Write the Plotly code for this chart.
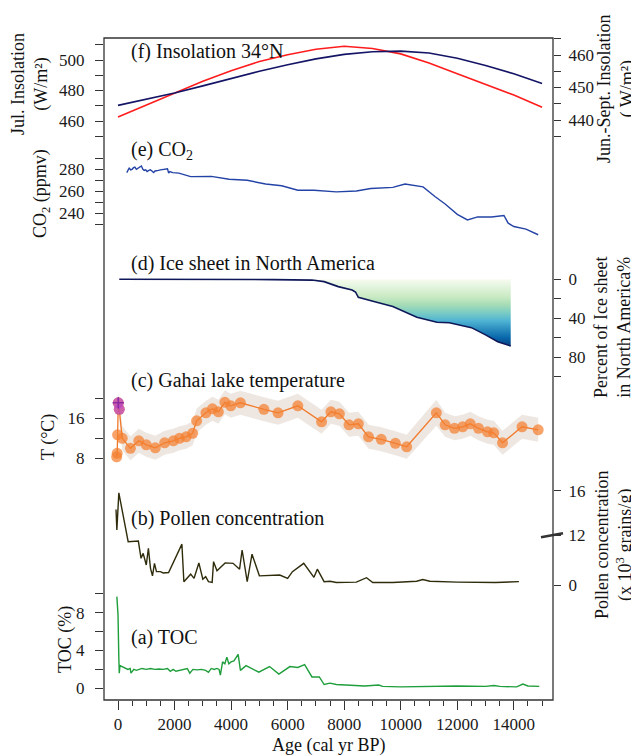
import plotly.graph_objects as go

FONT = "Liberation Serif, Times New Roman, serif"
PAGE_W, PAGE_H = 639, 755
OFF = 8                      # default page margin of the html body
W, H = PAGE_W - OFF, PAGE_H - OFF
L, R, T, B = 104, 553, 38, 700  # plot area in screenshot pixels

# ---------------- data ----------------
ins_age = [0, 1000, 2000, 3000, 4000, 5000, 6000, 7000, 8000, 9000, 10000, 11000, 12000, 13000, 14000, 15000]
ins_jul = [462.6, 470.5, 478.4, 486, 493, 499, 503.5, 507, 509, 507.5, 504, 498, 491, 484, 477, 469]
ins_jjas = [444.5, 446.3, 448.3, 450.5, 452.8, 455, 457, 458.8, 460.2, 461, 461.2, 460.6, 459, 456.8, 454.2, 451.2]

co2_age = [310, 360, 395, 450, 496, 550, 597, 650, 711, 770, 827, 880, 927, 980, 1029, 1090, 1144, 1200,
           1260, 1310, 1361, 1430, 1504, 1580, 1648, 1750, 1793, 1835, 1935, 2152, 2570, 3300, 3930, 4570,
           5220, 5790, 6360, 6930, 7720, 8430, 8940, 9720, 10150, 10790, 11220, 11570, 12000, 12360, 12720,
           13210, 13650, 13800, 14000, 14430, 14860]
co2_val = [277, 280.5, 281, 279.5, 280, 281.5, 282, 280, 281, 281.5, 283, 280, 279, 279.5, 278, 279, 279.5,
           278.5, 277, 278.5, 278.5, 279, 279.5, 280, 280, 280.5, 276.5, 278, 277, 276.5, 273.3, 273.6, 271,
           270, 266.6, 265, 261, 261, 259.5, 260.3, 262.5, 263.6, 266.6, 264, 255, 248.5, 239, 234, 236.7,
           236.7, 238, 231, 228, 225.6, 220.5]

ice_age = [45, 2000, 4430, 5500, 6860, 7125, 7290, 7790, 8280, 8400, 8500, 9150, 9720, 10570, 11280, 11720,
           12500, 13000, 13430, 13890]
ice_pct = [0, 0, 0, 0.3, 0.8, 1.5, 2.4, 7.5, 11, 13, 18.5, 23.6, 28, 39, 44, 44.5, 49.6, 57, 64, 68.4]

t_age = [-47, -28, -14, 10, 45, 150, 440, 735, 1000, 1320, 1650, 1960, 2175, 2410, 2640, 2780, 3110, 3340,
         3550, 3780, 3990, 4330, 5160, 5660, 6360, 7200, 7530, 7830, 8170, 8500, 8860, 9310, 9810, 10210,
         11260, 11570, 11900, 12190, 12460, 12750, 13070, 13290, 13600, 14290, 14860]
t_val = [8.3, 9.0, 12.7, 19.1, 17.8, 12.0, 10.0, 11.5, 10.7, 10.1, 11.1, 11.5, 12.0, 12.3, 13.0, 15.5, 17.1,
         17.9, 17.3, 19.2, 18.5, 19.1, 17.8, 17.1, 18.5, 15.3, 17.3, 16.9, 14.7, 14.9, 12.3, 11.8, 11.0, 10.3,
         17.1, 14.7, 14.0, 14.3, 14.9, 14.0, 13.3, 13.1, 11.1, 14.3, 13.7]
t_err = [1.5, 1.5, 1.8, 2.0, 2.2, 2.4, 2.4, 2.4, 2.4, 2.4, 2.4, 2.4, 2.4, 2.4, 2.4, 2.4, 2.4, 2.4,
         2.4, 2.4, 2.4, 2.4, 2.4, 2.4, 2.4, 2.4, 2.4, 2.4, 2.4, 2.4, 2.4, 2.4, 2.4, 2.4,
         2.6, 2.4, 2.4, 2.4, 2.4, 2.4, 2.4, 2.4, 2.4, 2.4, 2.4]
t_mod_age = [10, 45]
t_mod_val = [19.1, 17.8]

pol_age = [-70, -40, 30, 360, 720, 815, 890, 1000, 1075, 1150, 1220, 1290, 1360, 1500, 1600, 1790, 2260, 2330,
           2570, 2690, 2860, 3000, 3100, 3200, 3330, 3380, 3500, 3790, 4070, 4300, 4390, 4570, 4740, 5000,
           5720, 6000, 6170, 6570, 6930, 7050, 7290, 7500, 7720, 8430, 8790, 9010, 9720, 10560, 10780, 11030,
           12000, 13350, 14180]
pol_val = [14.3, 12.45, 15.8, 10.4, 10.55, 6.4, 7.6, 4.8, 8.8, 4.0, 2.2, 5.2, 3.2, 3.2, 2.9, 3.0, 9.8, 0.8,
           2.6, 1.6, 5.3, 1.4, 2.0, 0.8, 0.6, 5.6, 3.4, 5.3, 5.2, 3.8, 8.4, 0.8, 7.4, 2.2,
           2.4, 1.6, 3.2, 5.2, 1.85, 3.8, 0.8, 0.9, 0.6, 0.7, 1.75, 0.6, 0.6, 0.9, 1.3, 0.9,
           0.7, 0.6, 0.8]
POL_BREAK = 12
POL_STRETCH = 2.66  # display stretch of the axis segment above the break

toc_age = [-40, 0, 30, 45, 70, 150, 250, 350, 430, 460, 560, 650, 750, 850, 1000, 1150, 1300, 1450, 1600, 1750,
           1850, 1950, 2050, 2200, 2350, 2450, 2540, 2650, 2800, 2950, 3100, 3200, 3300, 3400, 3500, 3575,
           3620, 3700, 3780, 3850, 3920, 4000, 4100, 4250, 4330, 4530, 4980, 5360, 5690, 6080, 6360, 6600,
           6860, 7120, 7290, 7500, 7720, 8140, 8720, 9220, 9360, 10000, 11000, 12000, 13000, 13300, 13500,
           14100, 14320, 14500, 14900]
toc_val = [9.7, 7.8, 3.2, 1.6, 2.4, 2.3, 2.2, 2.0, 2.1, 1.6, 2.0, 1.9, 2.0, 2.1, 2.0, 2.1, 2.0, 2.05, 2.0, 2.1,
           1.8, 2.0, 1.8, 1.9, 2.0, 2.1, 1.6, 2.0, 1.95, 2.0, 1.9, 1.7, 2.1, 2.0, 2.1, 2.0,
           1.4, 2.8, 2.6, 3.3, 2.6, 2.8, 2.9, 3.6, 1.9, 2.4, 1.7, 2.3, 1.5, 2.3, 2.2, 2.5,
           1.2, 1.2, 0.4, 0.55, 0.4, 0.35, 0.25, 0.35, 0.2, 0.15, 0.2, 0.25, 0.2, 0.3, 0.2,
           0.15, 0.45, 0.25, 0.2]

x_major = [0, 2000, 4000, 6000, 8000, 10000, 12000, 14000]
x_minor = list(range(0, 15001, 500))


# ---------------- helpers ----------------
def pxx(px):
    return (px - L) / (R - L)


def pxy(py):
    return (B - py) / (B - T)


def lin_range(v1, p1, v2, p2, top_px, bot_px):
    k = (v1 - v2) / (p1 - p2)
    return [v1 + (bot_px - p1) * k, v1 + (top_px - p1) * k]


def dom(top_px, bot_px):
    return [pxy(bot_px), pxy(top_px)]


def pol_disp(v):
    return v if v <= POL_BREAK else POL_BREAK + (v - POL_BREAK) * POL_STRETCH


TICKC = "#333333"
tickfont = dict(family=FONT, size=17, color="#1a1a1a")


def yax(domain, rng, major, minor, side="left", labels=None):
    return dict(domain=domain, range=rng, tickvals=major,
                ticktext=labels if labels is not None else [str(v) for v in major],
                side=side, anchor="x",
                showline=False, showgrid=False, zeroline=False, ticks="outside", ticklen=8 if side == "left" else 7,
                tickcolor=TICKC, tickwidth=1.1, tickfont=tickfont,
                ticklabelstandoff=7 if side == "left" else 4,
                minor=dict(tickvals=minor, ticks="outside", ticklen=8 if side == "left" else 7,
                           tickcolor=TICKC, tickwidth=1.1),
                fixedrange=True)


fig = go.Figure()

# (f) insolation
fig.add_trace(go.Scatter(x=ins_age, y=ins_jul, mode="lines", line=dict(color="#ff1c1c", width=1.6),
                         yaxis="y", showlegend=False))
fig.add_trace(go.Scatter(x=ins_age, y=ins_jjas, mode="lines", line=dict(color="#141466", width=1.6),
                         yaxis="y2", showlegend=False))
# (e) CO2
fig.add_trace(go.Scatter(x=co2_age, y=co2_val, mode="lines", line=dict(color="#2443a6", width=1.4),
                         yaxis="y3", showlegend=False))
# (d) ice sheet with gradient fill
i0 = next(i for i, v in enumerate(ice_pct) if v >= 1.5)
fx, fy = ice_age[i0:], ice_pct[i0:]
fig.add_trace(go.Scatter(x=[fx[0], fx[-1]], y=[0, 0], mode="lines", line=dict(width=0),
                         yaxis="y4", showlegend=False, hoverinfo="skip"))
fig.add_trace(go.Scatter(x=fx, y=fy, mode="lines", line=dict(width=0), fill="tonexty",
                         fillgradient=dict(type="vertical", colorscale="GnBu", start=0, stop=max(ice_pct)),
                         yaxis="y4", showlegend=False, hoverinfo="skip"))
fig.add_trace(go.Scatter(x=ice_age, y=ice_pct, mode="lines", line=dict(color="#0e1858", width=1.6),
                         yaxis="y4", showlegend=False))
# (c) temperature
t_lo = [v - e for v, e in zip(t_val, t_err)]
t_hi = [v + e for v, e in zip(t_val, t_err)]
fig.add_trace(go.Scatter(x=t_age, y=t_lo, mode="lines", line=dict(width=0), yaxis="y5",
                         showlegend=False, hoverinfo="skip"))
fig.add_trace(go.Scatter(x=t_age, y=t_hi, mode="lines", line=dict(width=0), fill="tonexty",
                         fillcolor="rgba(222,208,196,0.5)", yaxis="y5", showlegend=False, hoverinfo="skip"))
fig.add_trace(go.Scatter(x=t_age, y=t_val, mode="lines+markers", line=dict(color="#f07a2a", width=1.3),
                         marker=dict(size=11, color="rgba(244,128,48,0.72)", line=dict(width=0)),
                         yaxis="y5", showlegend=False))
fig.add_trace(go.Scatter(x=t_mod_age, y=t_mod_val, mode="lines+markers", line=dict(color="#b040c0", width=1),
                         marker=dict(size=11, color="rgba(185,70,200,0.7)", line=dict(width=0)),
                         yaxis="y5", showlegend=False))
fig.add_trace(go.Scatter(x=t_mod_age[:1], y=t_mod_val[:1], mode="markers",
                         marker=dict(symbol="cross-thin", size=8, line=dict(color="#8a2aa0", width=1.5)),
                         yaxis="y5", showlegend=False))
# (b) pollen (broken axis above 12)
fig.add_trace(go.Scatter(x=pol_age, y=[pol_disp(v) for v in pol_val], mode="lines",
                         line=dict(color="#2f2c0c", width=1.4), yaxis="y6", showlegend=False))
# (a) TOC
fig.add_trace(go.Scatter(x=toc_age, y=toc_val, mode="lines", line=dict(color="#1f9e3c", width=1.4),
                         yaxis="y7", showlegend=False))

pol_ticks = [0, 12, 16]

fig.update_layout(
    width=W, height=H,
    margin=dict(l=L - OFF, r=PAGE_W - R, t=T - OFF, b=PAGE_H - B, autoexpand=False),
    paper_bgcolor="white", plot_bgcolor="rgba(0,0,0,0)",
    font=dict(family=FONT, color="#1a1a1a"),
    xaxis=dict(domain=[0, 1], range=[-495, 15385], anchor="free", position=0,
               tickvals=x_major, ticktext=[str(v) for v in x_major],
               ticks="outside", ticklen=9, tickcolor=TICKC, tickwidth=1.1, tickfont=tickfont,
               ticklabelstandoff=0,
               minor=dict(tickvals=x_minor, ticks="outside", ticklen=5, tickcolor=TICKC, tickwidth=1.1),
               showline=False, showgrid=False, zeroline=False, fixedrange=True),
    yaxis=yax(dom(38, 142), lin_range(500, 60, 460, 121, 38, 142),
              [460, 480, 500], [450, 470, 490, 510]),
    yaxis2=yax(dom(38, 142), lin_range(460, 55, 440, 120, 38, 142),
               [440, 450, 460], [435, 445, 455, 465], side="right"),
    yaxis3=yax(dom(145, 242), lin_range(280, 169.3, 240, 213.3, 145, 242),
               [240, 260, 280], [230, 250, 270, 290]),
    yaxis4=yax(dom(262, 392), lin_range(0, 279.3, 80, 357.3, 262, 392),
               [0, 40, 80], [20, 60, 100], side="right"),
    yaxis5=yax(dom(385, 476), lin_range(16, 418.3, 8, 458.3, 385, 476),
               [8, 16], [12, 20]),
    yaxis6=yax(dom(475, 625), lin_range(0, 585, 12, 535, 475, 625),
               [pol_disp(v) for v in pol_ticks], [], side="right", labels=[str(v) for v in pol_ticks]),
    yaxis7=yax(dom(585, 700), lin_range(0, 688.3, 8, 612.7, 585, 700),
               [0, 4, 8], [2, 6, 10]),
)

# frame
fig.add_shape(type="rect", xref="paper", yref="paper", x0=0, x1=1, y0=0, y1=1,
              line=dict(color="#333333", width=1.3), layer="above")
# axis break marker on the pollen axis
fig.add_shape(type="line", xref="paper", yref="y6", x0=pxx(541), x1=pxx(563),
              y0=POL_BREAK - 0.55, y1=POL_BREAK + 0.4, line=dict(color="#333333", width=2.6))

ann = []


def title(text, px, py):
    ann.append(dict(text=text, xref="paper", yref="paper", x=pxx(px), y=pxy(py), xanchor="left",
                    yanchor="middle", showarrow=False, font=dict(family=FONT, size=20, color="#111")))


title("(f) Insolation 34°N", 129, 51)
title("(e) CO<sub>2</sub>", 129, 150)
title("(d) Ice sheet in North America", 129, 263)
title("(c) Gahai lake temperature", 129, 380)
title("(b) Pollen concentration", 129, 518)
title("(a) TOC", 129, 637)


def vlabel(text, px, py, size=18):
    ann.append(dict(text=text, xref="paper", yref="paper", x=pxx(px), y=pxy(py), xanchor="center",
                    yanchor="middle", textangle=-90, showarrow=False,
                    font=dict(family=FONT, size=size, color="#111")))


vlabel("Jul. Insolation<br>(W/m²)", 30, 84)
vlabel("CO<sub>2</sub> (ppmv)", 41, 194)
vlabel("T (°C)", 48, 437)
vlabel("TOC (%)", 65, 640)
vlabel("Jun.-Sept. Insolation<br>( W/m²)", 616, 89)
vlabel("Percent of Ice sheet<br>in North America%", 612, 328)
vlabel("Pollen concentration<br>(x 10<sup>3</sup> grains/g)", 614, 545)

ann.append(dict(text="Age (cal yr BP)", xref="paper", yref="paper", x=pxx(328), y=pxy(745),
                xanchor="center", yanchor="middle", showarrow=False,
                font=dict(family=FONT, size=18, color="#111")))

fig.update_layout(annotations=ann)

fig.write_html("out.html")
